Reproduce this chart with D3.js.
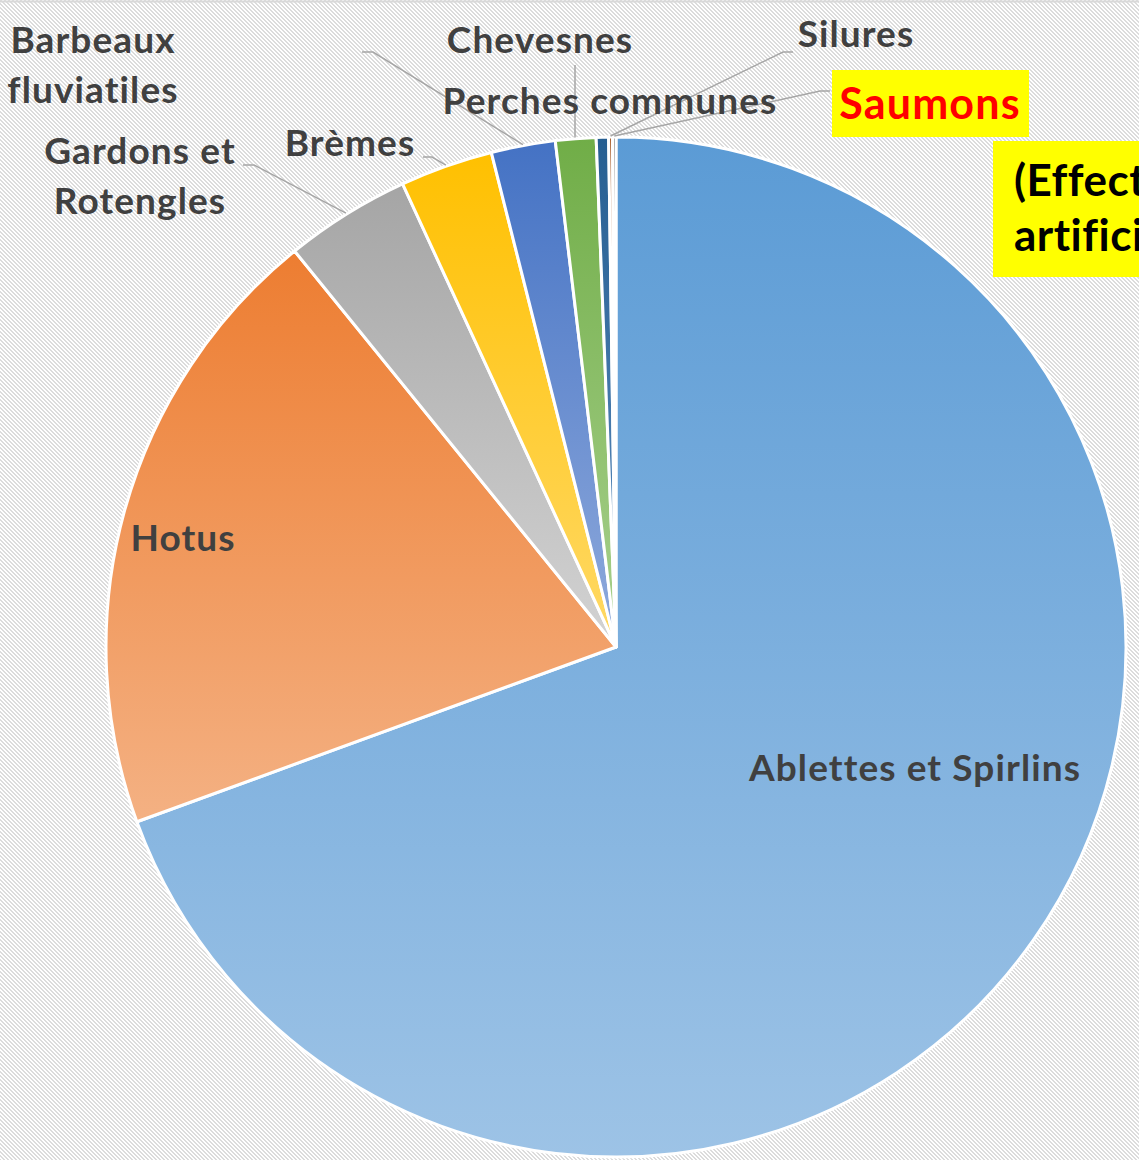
<!DOCTYPE html>
<html>
<head>
<meta charset="utf-8">
<script src="https://cdn.jsdelivr.net/npm/d3@7"></script>
<style>
  html, body { margin: 0; padding: 0; background: #fff; overflow: hidden; }
  svg { display: block; }
  text { font-family: Lato, "Open Sans", sans-serif; font-weight: 700; }
</style>
</head>
<body>
<script>
// Species of fish counted (share of the total, %)
const categories = [
  "Ablettes et Spirlins", "Hotus", "Gardons et Rotengles", "Brèmes",
  "Barbeaux fluviatiles", "Chevesnes", "Perches communes", "Silures", "Saumons"
];
const values = [69.42, 19.71, 3.98, 2.94, 2.03, 1.28, 0.39, 0.12, 0.11];
const topColors    = ["#5B9BD5", "#ED7D31", "#A5A5A5", "#FFC000", "#4472C4", "#70AD47", "#255E91", "#9E480E", "#636363"];
const bottomColors = ["#9DC3E6", "#F4B183", "#D3D3D3", "#FFD966", "#8FAADC", "#A9D18E", "#5E8EC0", "#C8804E", "#8F8F8F"];
const noteLines = ["(Effectifs", "artificiels)"];

const W = 1139, H = 1160;
const cx = 616, cy = 647, R = 510;

const svg = d3.select("body").append("svg").attr("width", W).attr("height", H);
const defs = svg.append("defs");

// Hatched chart-area background: thin downward diagonals
const pat = defs.append("pattern")
  .attr("id", "hatch").attr("patternUnits", "userSpaceOnUse")
  .attr("width", 4).attr("height", 4);
pat.append("rect").attr("width", 4).attr("height", 4).attr("fill", "#ffffff");
for (let y = 0; y < 4; y++) {
  for (const k of [0, 1]) {
    pat.append("rect").attr("x", (y + k) % 4).attr("y", y)
      .attr("width", 1).attr("height", 1).attr("fill", "#DCDCDC");
  }
}
svg.append("rect").attr("width", W).attr("height", H).attr("fill", "url(#hatch)");
svg.append("line").attr("x1", 0).attr("x2", W).attr("y1", 1.5).attr("y2", 1.5)
  .attr("stroke", "#D9D9D9").attr("stroke-width", 2);

// One vertical gradient per slice (bounding-box units)
categories.forEach((c, i) => {
  const g = defs.append("linearGradient").attr("id", "grad" + i)
    .attr("x1", 0).attr("y1", 0).attr("x2", 0).attr("y2", 1);
  g.append("stop").attr("offset", "0%").attr("stop-color", topColors[i]);
  g.append("stop").attr("offset", "100%").attr("stop-color", bottomColors[i]);
});

const data = categories.map((c, i) => ({ name: c, value: values[i], i }));
const pie = d3.pie().sort(null).value(d => d.value);
const arcs = pie(data);
const arc = d3.arc().innerRadius(0).outerRadius(R);

const g = svg.append("g").attr("transform", `translate(${cx},${cy})`);
g.selectAll("path.slice").data(arcs).enter().append("path")
  .attr("class", "slice")
  .attr("d", arc)
  .attr("fill", d => `url(#grad${d.data.i})`)
  .attr("stroke", "#ffffff").attr("stroke-width", 3)
  .attr("stroke-linejoin", "round");

// Point on the outer rim at the middle of a slice
function rimPoint(name) {
  const a = arcs.find(d => d.data.name === name);
  const m = (a.startAngle + a.endAngle) / 2;
  return [cx + (R + 1) * Math.sin(m), cy - (R + 1) * Math.cos(m)];
}

// Leader lines: label anchor -> short elbow -> slice rim
const leaders = [
  { name: "Barbeaux fluviatiles", from: [362, 52], elbow: [373, 52] },
  { name: "Gardons et Rotengles", from: [243, 165], elbow: [254, 165] },
  { name: "Brèmes", from: [423, 157], elbow: [432, 157] },
  { name: "Chevesnes", from: [575, 65], elbow: null },
  { name: "Silures", from: [793, 52], elbow: [783, 52] },
  { name: "Saumons", from: [830, 91], elbow: [820, 91] }
];
leaders.forEach(l => {
  const p = rimPoint(l.name);
  const pts = [l.from];
  if (l.elbow) pts.push(l.elbow);
  pts.push(l.name === "Chevesnes" ? [l.from[0], p[1]] : p);
  svg.append("path").attr("d", d3.line()(pts))
    .attr("fill", "none").attr("stroke", "#A6A6A6").attr("stroke-width", 1.5);
});

// Category labels
const labelSpecs = [
  { name: "Barbeaux fluviatiles", lines: ["Barbeaux", "fluviatiles"], x: 93, y: 53 },
  { name: "Gardons et Rotengles", lines: ["Gardons et", "Rotengles"], x: 140, y: 164 },
  { name: "Brèmes", lines: ["Brèmes"], x: 350, y: 156 },
  { name: "Chevesnes", lines: ["Chevesnes"], x: 540, y: 53 },
  { name: "Perches communes", lines: ["Perches communes"], x: 610, y: 114 },
  { name: "Silures", lines: ["Silures"], x: 856, y: 47 },
  { name: "Hotus", lines: ["Hotus"], x: 183, y: 551 },
  { name: "Ablettes et Spirlins", lines: ["Ablettes et Spirlins"], x: 915, y: 781 }
];
labelSpecs.forEach(s => {
  const t = svg.append("text").attr("text-anchor", "middle")
    .attr("fill", "#404040").attr("font-size", 37).attr("letter-spacing", 1.1);
  s.lines.forEach((ln, k) => {
    t.append("tspan").attr("x", s.x).attr("y", s.y + k * 50).text(ln);
  });
});

// Highlighted salmon label
svg.append("rect").attr("x", 832).attr("y", 70).attr("width", 197).attr("height", 67)
  .attr("fill", "#FFFF00");
svg.append("text").attr("x", 930).attr("y", 119).attr("text-anchor", "middle")
  .attr("fill", "#FF0000").attr("font-size", 43).attr("letter-spacing", 1.2).text("Saumons");

// Note box (runs past the right edge)
svg.append("rect").attr("x", 993).attr("y", 141).attr("width", 300).attr("height", 136)
  .attr("fill", "#FFFF00");
const note = svg.append("text").attr("fill", "#000000").attr("font-size", 44)
  .attr("letter-spacing", 0.5);
noteLines.forEach((ln, k) => {
  note.append("tspan").attr("x", 1014).attr("y", 196 + k * 55).text(ln);
});
</script>
</body>
</html>
